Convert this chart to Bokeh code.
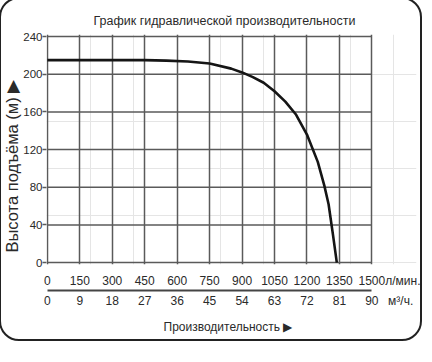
from bokeh.plotting import figure
from bokeh.models import Range1d, LinearAxis, FixedTicker, Grid, Title, InlineStyleSheet
from bokeh.embed import file_html
from bokeh.resources import INLINE

# ---- data ----
flow_lpm = [0, 150, 300, 450, 550, 650, 750, 850, 900, 950, 1000, 1050,
            1100, 1150, 1200, 1250, 1280, 1300, 1320, 1338]
head_m = [215, 215, 215, 215, 214.5, 213.5, 211.5, 206, 202, 197, 191, 182,
          171, 157, 136, 107, 82, 62, 30, 0]

x_ticks_lpm = [0, 150, 300, 450, 600, 750, 900, 1050, 1200, 1350, 1500]
x_ticks_m3h = [0, 9, 18, 27, 36, 45, 54, 63, 72, 81, 90]
y_ticks = [0, 40, 80, 120, 160, 200, 240]

title_text = "График гидравлической производительности"
y_label = "Высота подъёма (м) ▶"
x_label = "Производительность ▶"
unit_lpm = "л/мин."
unit_m3h = "м³/ч."

# ---- layout (pixels) ----
W, H = 420, 346
MB_LEFT, MB_RIGHT, MB_TOP, MB_BOTTOM = 42, 4, 34, 82
FRAME_W = W - MB_LEFT - MB_RIGHT
FRAME_H = H - MB_TOP - MB_BOTTOM
PX_PER_LPM = 328.0 / 1500.0      # 1500 l/min spans 328 px
PX_PER_M = 226.0 / 240.0         # 240 m spans 226 px
X_PAD, Y_PAD = 4, 2              # small data padding so edge lines are not clipped
x_start = -X_PAD
x_end = x_start + FRAME_W / PX_PER_LPM
y_start = -Y_PAD
y_end = y_start + FRAME_H / PX_PER_M
LPM_TO_M3H = 90.0 / 1500.0
UNIT_LPM_POS = 1646              # where the unit text sits in the tick-label row
UNIT_M3H_POS = 98

FONT = "Liberation Sans"
TXT = "#2a2a2a"
GRID = "#5a5a5a"
TICK_FS = "12px"

p = figure(width=W, height=H, x_range=Range1d(x_start, x_end), y_range=Range1d(y_start, y_end),
           extra_x_ranges={"m3h": Range1d(x_start * LPM_TO_M3H, x_end * LPM_TO_M3H)},
           output_backend="svg", toolbar_location=None,
           x_axis_location=None, y_axis_location=None,
           min_border_left=MB_LEFT, min_border_right=MB_RIGHT,
           min_border_top=MB_TOP, min_border_bottom=MB_BOTTOM,
           title=title_text)

p.title.align = "left"
p.title.offset = 47
p.title.standoff = 13
p.title.text_font = FONT
p.title.text_font_size = "12.5px"
p.title.text_font_style = "normal"
p.title.text_color = TXT

p.outline_line_color = None
p.background_fill_color = "white"
p.border_fill_color = "white"

# vertical grid lines (incl. frame edges at 0 and 1500)
p.add_layout(Grid(dimension=0, ticker=FixedTicker(ticks=x_ticks_lpm),
                  grid_line_color=GRID, grid_line_width=1.5))
# horizontal grid lines, limited to the chart's 0..1500 span
n = len(y_ticks)
p.segment(x0=[x_ticks_lpm[0]] * n, x1=[x_ticks_lpm[-1]] * n, y0=y_ticks, y1=y_ticks,
          line_color=GRID, line_width=1.5)

yax = LinearAxis(ticker=FixedTicker(ticks=y_ticks), axis_line_color=None,
                 major_tick_out=4, major_tick_in=0, major_tick_line_color=GRID,
                 major_tick_line_width=1.3, minor_tick_line_color=None,
                 major_label_standoff=0, major_label_text_font=FONT,
                 major_label_text_font_size="11.5px", major_label_text_color=TXT)
p.add_layout(yax, "left")

p.add_layout(Title(text=y_label, align="left", offset=12, standoff=0,
                   text_font=FONT, text_font_size="16.5px", text_font_style="normal",
                   text_color=TXT), "left")

# row 1: l/min labels (no line)
xax1 = LinearAxis(ticker=FixedTicker(ticks=x_ticks_lpm + [UNIT_LPM_POS]),
                  major_label_overrides={UNIT_LPM_POS: unit_lpm},
                  axis_line_color=None, major_tick_out=0, major_tick_in=0,
                  major_tick_line_color=None, minor_tick_line_color=None,
                  major_label_standoff=9, major_label_text_font=FONT,
                  major_label_text_font_size=TICK_FS, major_label_text_color=TXT)
p.add_layout(xax1, "below")

# separating scale line
xline = LinearAxis(x_range_name="m3h", ticker=FixedTicker(ticks=[]),
                   bounds=(x_ticks_m3h[0], x_ticks_m3h[-1]),
                   axis_line_color="#444444", axis_line_width=2,
                   major_tick_out=0, major_tick_in=0, minor_tick_line_color=None)
p.add_layout(xline, "below")

# row 2: m3/h labels
xax2 = LinearAxis(x_range_name="m3h", ticker=FixedTicker(ticks=x_ticks_m3h + [UNIT_M3H_POS]),
                  major_label_overrides={UNIT_M3H_POS: unit_m3h},
                  axis_line_color=None, major_tick_out=0, major_tick_in=0,
                  major_tick_line_color=None, minor_tick_line_color=None,
                  major_label_standoff=3, major_label_text_font=FONT,
                  major_label_text_font_size=TICK_FS, major_label_text_color=TXT)
p.add_layout(xax2, "below")

p.add_layout(Title(text=x_label, align="left", offset=117, standoff=14,
                   text_font=FONT, text_font_size="12px", text_font_style="normal",
                   text_color=TXT), "below")

p.line(flow_lpm, head_m, line_color="#151515", line_width=2.6)

p.stylesheets = [InlineStyleSheet(css="""
:host { position: relative; }
:host::after { content: ""; position: absolute; left: -1px; top: -3px;
  width: 423px; height: 344px; box-sizing: border-box;
  border: 2px solid #222; border-radius: 20px; pointer-events: none; }
""")]

open("out.html", "w").write(file_html(p, INLINE))
